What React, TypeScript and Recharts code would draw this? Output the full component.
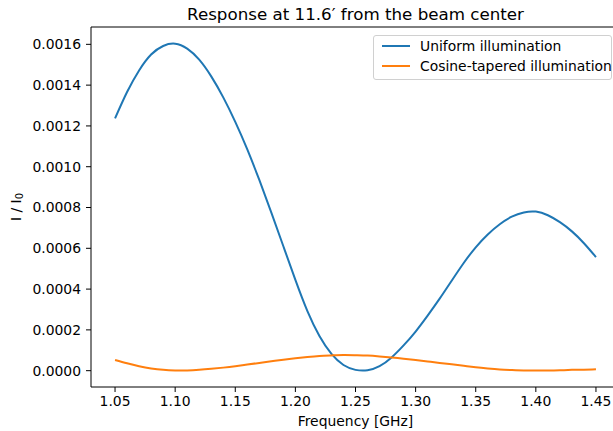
import { LineChart, Line, XAxis, YAxis, ReferenceLine } from 'recharts';

const FREQ = [
  1.05, 1.06, 1.07, 1.08, 1.09, 1.1, 1.11, 1.12, 1.13, 1.14, 1.15, 1.16, 1.17, 1.18,
  1.19, 1.2, 1.21, 1.22, 1.23, 1.24, 1.25, 1.26, 1.27, 1.28, 1.29, 1.3, 1.31, 1.32,
  1.33, 1.34, 1.35, 1.36, 1.37, 1.38, 1.39, 1.4, 1.41, 1.42, 1.43, 1.44, 1.45,
];

// I / I0, uniform aperture
const UNIFORM = [
  0.001237, 0.001366, 0.001472, 0.00155, 0.001592, 0.001603, 0.001579, 0.001525, 0.001443, 0.00134,
  0.00122, 0.001085, 0.000935, 0.000775, 0.00061, 0.000445, 0.000292, 0.00017, 0.000082, 0.000028,
  0.000004, 0.000002, 0.000022, 0.000065, 0.000124, 0.000192, 0.00027, 0.000353, 0.000441, 0.000528,
  0.000605, 0.000668, 0.000718, 0.000755, 0.000776, 0.00078, 0.000762, 0.000728, 0.000683, 0.000625,
  0.000557,
];

// I / I0, cosine-tapered aperture
const COSINE = [
  0.000052, 0.000036, 0.000022, 0.000011, 0.000004, 0.000001, 0.000001, 0.000004, 0.000009, 0.000015,
  0.000022, 0.00003, 0.000038, 0.000046, 0.000054, 0.000061, 0.000067, 0.000072, 0.000075, 0.000077,
  0.000076, 0.000074, 0.00007, 0.000065, 0.000059, 0.000052, 0.000045, 0.000038, 0.000031, 0.000024,
  0.000017, 0.000011, 0.000006, 0.000003, 0.000001, 0.000001, 0.000001, 0.000002, 0.000004, 0.000005,
  0.000007,
];

const X_TICKS = [1.05, 1.1, 1.15, 1.2, 1.25, 1.3, 1.35, 1.4, 1.45];
const Y_TICKS = [0, 0.0002, 0.0004, 0.0006, 0.0008, 0.001, 0.0012, 0.0014, 0.0016];

const X_DOMAIN: [number, number] = [1.03, 1.47];
const Y_DOMAIN: [number, number] = [-0.00008, 0.001685];

const SERIES = [
  { key: 'uniform', name: 'Uniform illumination', color: '#1f77b4' },
  { key: 'cosine', name: 'Cosine-tapered illumination', color: '#ff7f0e' },
];

const FONT = '"DejaVu Sans", sans-serif';
const tick = { fontSize: 13.9, fill: '#000', fontFamily: FONT };

const YLabel = () => (
  <text
    x={16}
    y={207}
    transform="rotate(-90, 16, 207)"
    textAnchor="middle"
    dominantBaseline="central"
    fontFamily={FONT}
    fontSize={13.9}
    fill="#000"
  >
    I / I<tspan dy={3} fontSize={10}>0</tspan>
  </text>
);

export default function App() {
  const data = FREQ.map((f, i) => ({ f, uniform: UNIFORM[i], cosine: COSINE[i] }));

  return (
    <div style={{ position: 'absolute', left: 0, top: 0, width: 613, height: 431, overflow: 'hidden', background: '#fff' }}>
      <LineChart width={620} height={431} data={data} margin={{ top: 27, right: 0, bottom: 0, left: 0 }}>
        <XAxis
          dataKey="f"
          type="number"
          domain={X_DOMAIN}
          ticks={X_TICKS}
          allowDataOverflow
          tickFormatter={(v: number) => v.toFixed(2)}
          tick={tick}
          tickSize={5}
          tickMargin={4}
          height={44}
          stroke="#000"
          label={{ value: 'Frequency [GHz]', position: 'insideBottom', offset: 5, fontSize: 13.9, fill: '#000', fontFamily: FONT }}
        />
        <YAxis
          type="number"
          domain={Y_DOMAIN}
          ticks={Y_TICKS}
          allowDataOverflow
          tickFormatter={(v: number) => v.toFixed(4)}
          tick={tick}
          tickSize={5}
          tickMargin={5}
          width={91}
          stroke="#000"
          label={<YLabel />}
        />
        {/* top spine, carries the title */}
        <ReferenceLine
          y={Y_DOMAIN[1]}
          stroke="#000"
          strokeWidth={1}
          label={{ value: 'Response at 11.6\u2032 from the beam center', position: 'top', offset: 7, fontSize: 16.7, fill: '#000', fontFamily: FONT }}
        />
        {SERIES.map((s) => (
          <Line
            key={s.key}
            dataKey={s.key}
            name={s.name}
            type="natural"
            stroke={s.color}
            strokeWidth={2}
            dot={false}
            isAnimationActive={false}
          />
        ))}
      </LineChart>
      <div
        style={{
          position: 'absolute',
          left: 373,
          top: 35,
          width: 237,
          height: 43,
          border: '1px solid #d0d0d0',
          borderRadius: 3,
          background: 'rgba(255,255,255,0.8)',
          fontFamily: FONT,
          fontSize: 13.9,
          color: '#000',
        }}
      >
        {SERIES.map((s, i) => (
          <div key={s.key} style={{ position: 'absolute', left: 0, top: 1 + i * 20, height: 18, display: 'flex', alignItems: 'center' }}>
            <div style={{ marginLeft: 8, width: 28, height: 2, background: s.color }} />
            <span style={{ marginLeft: 10, whiteSpace: 'nowrap' }}>{s.name}</span>
          </div>
        ))}
      </div>
    </div>
  );
}
